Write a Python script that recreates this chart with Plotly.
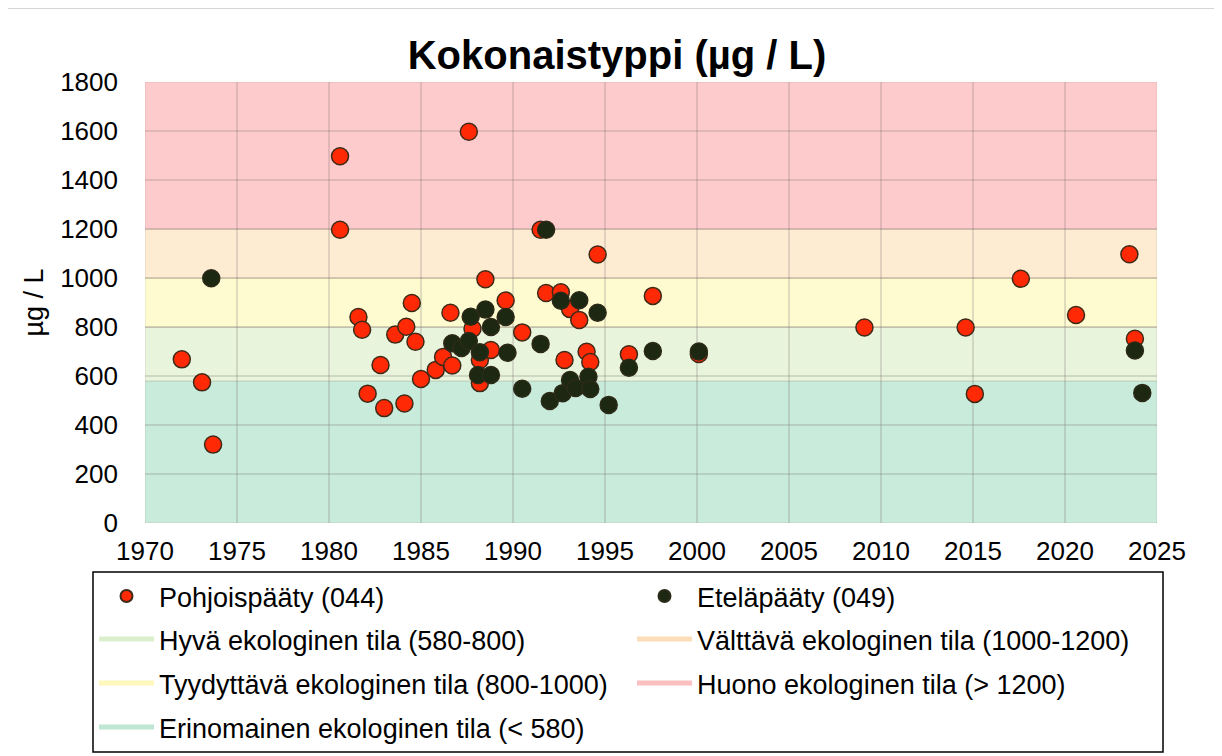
import plotly.graph_objects as go

# Kokonaistyppi, Pohjoispääty (044)
north_year = [1972.0, 1973.1, 1973.7, 1980.6, 1980.6, 1981.6, 1981.8, 1982.1, 1982.8,
              1983.0, 1983.6, 1984.1, 1984.2, 1984.5, 1984.7, 1985.0, 1985.8, 1986.2,
              1986.6, 1986.7, 1987.6, 1987.8, 1988.2, 1988.2, 1988.5, 1988.8, 1989.6,
              1990.5, 1991.5, 1991.8, 1992.6, 1992.8, 1993.1, 1993.6, 1994.0, 1994.2,
              1994.6, 1996.3, 1997.6, 2000.1, 2009.1, 2014.6, 2015.1, 2017.6, 2020.6,
              2023.5, 2023.8]
north_val = [668, 574, 320, 1497, 1197, 841, 789, 528, 645,
             469, 769, 488, 801, 898, 740, 588, 625, 678,
             858, 643, 1597, 793, 665, 571, 995, 706, 908,
             778, 1197, 939, 942, 665, 873, 829, 699, 657,
             1096, 689, 927, 690, 798, 798, 527, 997, 849,
             1097, 752]

# Eteläpääty (049)
south_year = [1973.6, 1986.7, 1987.2, 1987.6, 1987.7, 1988.1, 1988.2, 1988.5, 1988.8,
              1988.8, 1989.6, 1989.7, 1990.5, 1991.5, 1991.8, 1992.0, 1992.6, 1992.7,
              1993.1, 1993.4, 1993.6, 1994.1, 1994.2, 1994.6, 1995.2, 1996.3, 1997.6,
              2000.1, 2023.8, 2024.2]
south_val = [999, 734, 714, 743, 842, 604, 697, 871, 800,
             604, 841, 695, 548, 731, 1197, 498, 907, 530,
             584, 551, 909, 597, 547, 858, 482, 634, 702,
             700, 704, 531]

# ecological status classes (low, high limits)
band_names = ["Erinomainen ekologinen tila (< 580)", "Hyvä ekologinen tila (580-800)",
              "Tyydyttävä ekologinen tila (800-1000)", "Välttävä ekologinen tila (1000-1200)",
              "Huono ekologinen tila (> 1200)"]
band_low = [0, 580, 800, 1000, 1200]
band_high = [580, 800, 1000, 1200, 1800]
band_colors = ["#C9EBDC", "#E8F4DC", "#FEFBD1", "#FDEBD2", "#FECBCC"]
legend_colors = ["#BFE6D2", "#DCEFCD", "#FEF8BC", "#FCDDB9", "#FBBFC2"]
# class entries in the legend, row by row
legend_rows = [[1, 3], [2, 4], [0]]

x_ticks = list(range(1970, 2026, 5))
y_ticks = list(range(0, 1801, 200))

FONT = "Liberation Sans, Arial, sans-serif"
# page body has an 8px margin, so the figure is 8px smaller than the window
W, H = 1214, 748
L, T = 137, 74
R, B = W - 1149, H - 515
pw, ph = W - L - R, H - T - B


def px(sx):  # screen pixel -> paper x
    return (sx - 8 - L) / pw


def py(sy):  # screen pixel -> paper y
    return (H - B - (sy - 8)) / ph


row_centers = [600, 643, 687, 731]

fig = go.Figure()

fig.add_trace(go.Scatter(
    x=north_year, y=north_val, mode="markers", name="Pohjoispääty (044)",
    marker=dict(size=17, color="#FF2A05", line=dict(color="#3F2A18", width=1.5)),
    legend="legend",
))
fig.add_trace(go.Scatter(
    x=south_year, y=south_val, mode="markers", name="Eteläpääty (049)",
    marker=dict(size=17, color="#1C2812", line=dict(color="#2C2A18", width=1.5)),
    legend="legend",
))

for r, row in enumerate(legend_rows):
    for i in row:
        fig.add_trace(go.Scatter(
            x=[None], y=[None], mode="lines", name=band_names[i],
            line=dict(color=legend_colors[i], width=8),
            legend="legend%d" % (r + 2),
        ))

shapes = []
for lo, hi, c in zip(band_low, band_high, band_colors):
    shapes.append(dict(type="rect", xref="x", yref="y", x0=1970, x1=2025, y0=lo, y1=hi,
                       fillcolor=c, line=dict(color="rgba(150,140,110,0.25)", width=1),
                       layer="below"))
# chart area frame
shapes.append(dict(type="rect", xref="paper", yref="paper",
                   x0=px(5), x1=px(1230), y0=py(770), y1=py(8),
                   line=dict(color="#D4D4D4", width=2), fillcolor="rgba(0,0,0,0)"))
# legend box
shapes.append(dict(type="rect", xref="paper", yref="paper",
                   x0=px(93), x1=px(1163), y0=py(752), y1=py(572),
                   line=dict(color="black", width=1.5), fillcolor="rgba(0,0,0,0)"))

legend_style = dict(orientation="h", x=px(94), xanchor="left", yanchor="top",
                    entrywidth=468, entrywidthmode="pixels", itemwidth=55,
                    borderwidth=0, bgcolor="rgba(0,0,0,0)",
                    font=dict(size=27, family=FONT), itemsizing="constant")

fig.update_layout(
    width=W, height=H,
    margin=dict(l=L, r=R, t=T, b=B, autoexpand=False),
    paper_bgcolor="white", plot_bgcolor="white",
    font=dict(family=FONT, color="black"),
    title=dict(text="<b>Kokonaistyppi (µg / L)</b>", x=(617 - 8) / W, xanchor="center",
               y=1 - 47 / H, yanchor="middle", font=dict(size=40, family=FONT)),
    xaxis=dict(range=[1970, 2025], tickvals=x_ticks, showgrid=True,
               gridcolor="rgba(120,110,110,0.22)", gridwidth=2, zeroline=False,
               showline=False, ticks="", tickfont=dict(size=26), ticklabelstandoff=10,
               automargin=False),
    yaxis=dict(range=[0, 1800], tickvals=y_ticks, showgrid=True,
               gridcolor="rgba(120,110,110,0.22)", gridwidth=2, zeroline=False,
               showline=False, ticks="", tickfont=dict(size=26), automargin=False,
               ticklabelstandoff=26,
               title=dict(text="µg / L", font=dict(size=27), standoff=8)),
    shapes=shapes,
    showlegend=True,
    legend=dict(legend_style, y=py(row_centers[0] - 28)),
    legend2=dict(legend_style, y=py(row_centers[1] - 28)),
    legend3=dict(legend_style, y=py(row_centers[2] - 28)),
    legend4=dict(legend_style, y=py(row_centers[3] - 28)),
)

fig.write_html("out.html")
